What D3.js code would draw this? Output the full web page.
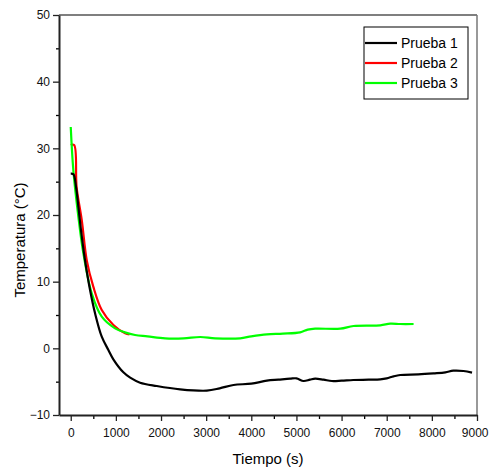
<!DOCTYPE html>
<html>
<head>
<meta charset="utf-8">
<script src="https://cdn.jsdelivr.net/npm/d3@7"></script>
<style>
  body { margin: 0; background: #fff; }
  text { font-family: "Liberation Sans", Arial, sans-serif; }
</style>
</head>
<body>
<svg id="chart"></svg>
<script>
// Prueba 1 (black)
var t1 = [0, 60, 117, 170, 228, 317, 428, 539, 687, 834, 944, 1166, 1317, 1536, 1906, 2423, 3015, 3300, 3605, 4000, 4345, 4600, 4860, 5000, 5157, 5300, 5415, 5600, 5785, 6000, 6260, 6600, 6857, 7000, 7150, 7300, 7700, 8035, 8300, 8475, 8700, 8890];
var T1 = [26.2, 26.1, 24.2, 21.2, 17.7, 13.2, 8.75, 5.25, 1.75, -0.25, -1.65, -3.6, -4.4, -5.15, -5.65, -6.15, -6.35, -6.0, -5.5, -5.3, -4.85, -4.7, -4.55, -4.5, -4.9, -4.7, -4.55, -4.7, -4.9, -4.85, -4.75, -4.7, -4.65, -4.5, -4.2, -4.0, -3.9, -3.75, -3.6, -3.35, -3.4, -3.65];
// Prueba 2 (red)
var t2 = [0, 75, 130, 245, 355, 500, 687, 945, 1205, 1300];
var T2 = [30.5, 30.5, 24.2, 19.2, 13.2, 9.25, 5.75, 3.5, 2.25, 2.1];
// Prueba 3 (green)
var t3 = [0, 58, 170, 280, 465, 687, 982, 1200, 1425, 1700, 2090, 2500, 2870, 3200, 3753, 4000, 4345, 4700, 5083, 5250, 5415, 5970, 6265, 6857, 7078, 7300, 7595];
var T3 = [33.2, 26.7, 19.7, 14.25, 8.25, 4.75, 3.0, 2.4, 2.0, 1.8, 1.5, 1.5, 1.7, 1.5, 1.5, 1.8, 2.1, 2.2, 2.4, 2.8, 2.95, 2.95, 3.35, 3.45, 3.7, 3.65, 3.65];

var names = ["Prueba 1", "Prueba 2", "Prueba 3"];
var colors = ["#000000", "#ff0000", "#00ff00"];
var xTicks = [0, 1000, 2000, 3000, 4000, 5000, 6000, 7000, 8000, 9000];
var yTicks = [-10, 0, 10, 20, 30, 40, 50];

var width = 489, height = 472;
var margin = { top: 15, right: 12, bottom: 57, left: 59 };

var svg = d3.select("#chart").attr("width", width).attr("height", height);

var x = d3.scaleLinear().domain([-260, 9000]).range([margin.left, width - margin.right]);
var y = d3.scaleLinear().domain([-10, 50]).range([height - margin.bottom, margin.top]);

// frame top/right
svg.append("line")
    .attr("x1", x(-260)).attr("x2", x(9000))
    .attr("y1", y(50)).attr("y2", y(50))
    .attr("stroke", "#000").attr("stroke-width", 1.2);
svg.append("line")
    .attr("x1", x(9000)).attr("x2", x(9000))
    .attr("y1", y(50)).attr("y2", y(-10))
    .attr("stroke", "#777").attr("stroke-width", 1.5);

// minor ticks
var xMinor = d3.range(500, 9000, 1000);
var yMinor = d3.range(-5, 50, 10);
svg.append("g")
    .attr("transform", "translate(0," + y(-10) + ")")
    .call(d3.axisBottom(x).tickValues(xMinor).tickSize(4).tickFormat(""))
    .call(function (g) { g.select(".domain").remove(); })
    .selectAll("line").attr("stroke-width", 1.3);
svg.append("g")
    .attr("transform", "translate(" + x(-260) + ",0)")
    .call(d3.axisLeft(y).tickValues(yMinor).tickSize(3).tickFormat(""))
    .call(function (g) { g.select(".domain").remove(); })
    .selectAll("line").attr("stroke-width", 1.3);

// main axes
var xAxis = svg.append("g")
    .attr("transform", "translate(0," + y(-10) + ")")
    .call(d3.axisBottom(x).tickValues(xTicks).tickSize(6).tickSizeOuter(0).tickPadding(7).tickFormat(d3.format("d")));
var yAxis = svg.append("g")
    .attr("transform", "translate(" + x(-260) + ",0)")
    .call(d3.axisLeft(y).tickValues(yTicks).tickSize(6).tickSizeOuter(0).tickPadding(3));

[xAxis, yAxis].forEach(function (g) {
    g.select(".domain").attr("stroke", "#222").attr("stroke-width", 2);
    g.selectAll(".tick line").attr("stroke", "#222").attr("stroke-width", 1.3);
    g.selectAll(".tick text").attr("font-size", 12).attr("fill", "#111")
        .style("font-family", "'Liberation Sans', Arial, sans-serif");
});
// last label sits at the very edge, as in the original
xAxis.selectAll(".tick text").filter(function (d) { return d === 9000; })
    .attr("text-anchor", "end").attr("dx", "11");

// curves
var line = d3.line()
    .x(function (d) { return x(d[0]); })
    .y(function (d) { return y(d[1]); })
    .curve(d3.curveCatmullRom.alpha(0.5));

var series = [d3.zip(t1, T1), d3.zip(t2, T2), d3.zip(t3, T3)];
[1, 2, 0].forEach(function (i) {
    svg.append("path")
        .datum(series[i])
        .attr("fill", "none")
        .attr("stroke", colors[i])
        .attr("stroke-width", 2.2)
        .attr("stroke-linejoin", "round")
        .attr("d", line);
});

// axis titles
svg.append("text")
    .attr("x", 268).attr("y", 464)
    .attr("text-anchor", "middle")
    .attr("font-size", 15)
    .text("Tiempo (s)");
svg.append("text")
    .attr("transform", "translate(25,240) rotate(-90)")
    .attr("text-anchor", "middle")
    .attr("font-size", 15)
    .text("Temperatura (°C)");

// legend
var legend = svg.append("g");
legend.append("rect")
    .attr("x", 364).attr("y", 27).attr("width", 104).attr("height", 72)
    .attr("fill", "#fff").attr("stroke", "#000").attr("stroke-width", 1);
names.forEach(function (n, i) {
    var ly = 43 + i * 20;
    legend.append("line")
        .attr("x1", 365).attr("x2", 397).attr("y1", ly).attr("y2", ly)
        .attr("stroke", colors[i]).attr("stroke-width", 2.2);
    legend.append("text")
        .attr("x", 401).attr("y", ly + 5)
        .attr("font-size", 14)
        .text(n);
});
</script>
</body>
</html>
